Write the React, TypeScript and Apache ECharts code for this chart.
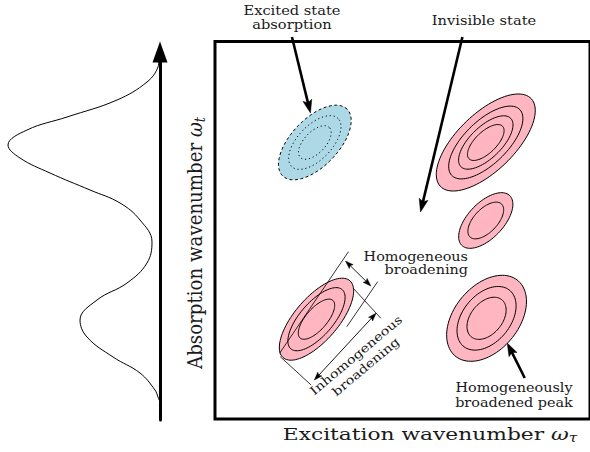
import React, { useEffect, useRef } from 'react';
import * as echarts from 'echarts';

// ---- Main 2D plane (excitation x, absorption y), ~1 unit per px ----
const peakKind = ['esa', 'peak', 'peak', 'peak', 'peak'];
const peakX = [102.5, 278, 278, 104.2, 278.8];
const peakY = [275.5, 275.5, 197.5, 98.8, 99.7];
const peakA = [47, 64, 35, 51.5, 49.6];
const peakB = [24, 29, 18, 22, 32.7];
const peakTilt = [45, 43, 45, 48, 48.5];
const peakContours = [
  [1, 0.72, 0.45],
  [1, 0.75, 0.55, 0.37],
  [1, 0.66],
  [1, 0.77, 0.49],
  [1, 0.74, 0.49],
];

// Guide lines around the lower-left peak: [x1, y1, x2, y2]
const guideLines = [
  [137, 166.3, 66.3, 64.7],
  [167, 136.3, 135.3, 91.3],
  [142, 129.7, 170.3, 99.7],
  [67, 61.3, 98.7, 33],
];

// Arrows: [x1, y1, x2, y2, heads (1 = end, 2 = both), thick (1) / thin (0)]
const arrowSegs = [
  [79, 381, 98, 305, 1, 1],
  [254, 381, 211, 206, 1, 1],
  [318, 40, 300, 75, 1, 1],
  [134, 157, 160, 132, 2, 0],
  [165.3, 104.7, 102, 38, 2, 0],
];

// ---- Linear absorption spectrum (left panel) ----
const specIntensity = [0, 1, 2, 13, 43, 93, 133, 152, 140, 110, 70, 40, 20, 8, 13, 33, 63, 80, 73, 47, 20, 5, 2, 0];
const specWavenumber = [362, 360, 353, 338, 320, 303, 290, 275, 262, 247, 230, 217, 200, 178, 157, 137, 120, 100, 83, 63, 47, 30, 23, 18];

const FONT = '"DejaVu Serif", serif';
const INK = '#1a1a1a';

function renderPeak(params: any, api: any) {
  const cx = api.value(0);
  const cy = api.value(1);
  const a = api.value(2);
  const b = api.value(3);
  const tilt = (api.value(4) * Math.PI) / 180;
  const s = api.value(5);
  const esa = api.value(6) === 1;
  const outer = s === 1;
  const pts: number[][] = [];
  const n = 96;
  for (let i = 0; i < n; i++) {
    const t = (i / n) * Math.PI * 2;
    const u = a * s * Math.cos(t);
    const v = b * s * Math.sin(t);
    const x = cx + u * Math.cos(tilt) - v * Math.sin(tilt);
    const y = cy + u * Math.sin(tilt) + v * Math.cos(tilt);
    pts.push(api.coord([x, y]));
  }
  return {
    type: 'polygon',
    shape: { points: pts },
    style: {
      fill: outer ? (esa ? '#ADD8E6' : '#FFB6C1') : 'none',
      stroke: '#000',
      lineWidth: 1,
      lineDash: esa ? (outer ? [3, 2.5] : [1.2, 2.8]) : null,
    },
  };
}

function renderGuide(params: any, api: any) {
  const p1 = api.coord([api.value(0), api.value(1)]);
  const p2 = api.coord([api.value(2), api.value(3)]);
  return {
    type: 'line',
    shape: { x1: p1[0], y1: p1[1], x2: p2[0], y2: p2[1] },
    style: { stroke: '#000', lineWidth: 0.8 },
  };
}

function renderArrow(params: any, api: any) {
  const p1 = api.coord([api.value(0), api.value(1)]);
  const p2 = api.coord([api.value(2), api.value(3)]);
  const both = api.value(4) === 2;
  const thick = api.value(5) === 1;
  const lw = thick ? 2.6 : 0.9;
  const hl = thick ? 13 : 8;
  const hw = thick ? 9 : 5.5;
  const dx = p2[0] - p1[0];
  const dy = p2[1] - p1[1];
  const len = Math.hypot(dx, dy);
  const ux = dx / len;
  const uy = dy / len;
  const nx = -uy;
  const ny = ux;
  const head = (tip: number[], dxu: number, dyu: number) => ({
    type: 'polygon',
    shape: {
      points: [
        tip,
        [tip[0] - dxu * hl + (nx * hw) / 2, tip[1] - dyu * hl + (ny * hw) / 2],
        [tip[0] - dxu * hl * 0.82, tip[1] - dyu * hl * 0.82],
        [tip[0] - dxu * hl - (nx * hw) / 2, tip[1] - dyu * hl - (ny * hw) / 2],
      ],
    },
    style: { fill: '#000', stroke: '#000', lineWidth: 0.5 },
  });
  const s = both ? [p1[0] + ux * hl * 0.7, p1[1] + uy * hl * 0.7] : p1;
  const e = [p2[0] - ux * hl * 0.7, p2[1] - uy * hl * 0.7];
  const children: any[] = [
    { type: 'line', shape: { x1: s[0], y1: s[1], x2: e[0], y2: e[1] }, style: { stroke: '#000', lineWidth: lw } },
    head(p2, ux, uy),
  ];
  if (both) children.push(head(p1, -ux, -uy));
  return { type: 'group', children };
}

export default function App() {
  const ref = useRef<HTMLDivElement>(null);

  useEffect(() => {
    if (!ref.current) return;
    const chart = echarts.init(ref.current, undefined, { renderer: 'svg' });

    const peakData: number[][] = [];
    peakX.forEach((x, i) => {
      peakContours[i].forEach((s) => {
        peakData.push([x, peakY[i], peakA[i], peakB[i], peakTilt[i], s, peakKind[i] === 'esa' ? 1 : 0]);
      });
    });
    const specData = specIntensity.map((v, i) => [v, specWavenumber[i]]);

    const small = { fontFamily: FONT, fontSize: 12, fill: INK };

    chart.setOption({
      animation: false,
      grid: [
        { left: 215, top: 41.5, width: 385, height: 377.5, show: true, borderColor: '#000', borderWidth: 3, backgroundColor: 'transparent' },
        { left: 0, top: 52, width: 160, height: 368, show: false },
      ],
      xAxis: [
        { gridIndex: 0, type: 'value', min: 0, max: 385, show: false },
        { gridIndex: 1, type: 'value', min: 0, max: 160, inverse: true, show: false },
      ],
      yAxis: [
        { gridIndex: 0, type: 'value', min: -1, max: 376.5, show: false },
        {
          gridIndex: 1,
          type: 'value',
          min: 0,
          max: 368,
          position: 'right',
          axisLine: {
            show: true,
            onZero: false,
            symbol: ['none', 'triangle'],
            symbolSize: [15, 21],
            lineStyle: { color: '#000', width: 3 },
          },
          axisTick: { show: false },
          axisLabel: { show: false },
          splitLine: { show: false },
        },
      ],
      series: [
        { type: 'custom', name: 'peaks', xAxisIndex: 0, yAxisIndex: 0, renderItem: renderPeak, data: peakData, z: 2 },
        { type: 'custom', name: 'guides', xAxisIndex: 0, yAxisIndex: 0, renderItem: renderGuide, data: guideLines, z: 3 },
        { type: 'custom', name: 'arrows', xAxisIndex: 0, yAxisIndex: 0, renderItem: renderArrow, data: arrowSegs, z: 4 },
        {
          type: 'line',
          name: 'spectrum',
          xAxisIndex: 1,
          yAxisIndex: 1,
          data: specData,
          smooth: 0.4,
          symbol: 'none',
          lineStyle: { color: '#000', width: 1 },
          z: 2,
        },
      ],
      graphic: [
        { type: 'text', x: 292, y: 18, scaleX: 1.22, style: { ...small, text: 'Excited state\nabsorption', lineHeight: 14.3, align: 'center', verticalAlign: 'middle' } },
        { type: 'text', x: 484, y: 20.8, scaleX: 1.22, style: { ...small, text: 'Invisible state', align: 'center', verticalAlign: 'middle' } },
        { type: 'text', x: 468, y: 263.2, scaleX: 1.2, style: { ...small, text: 'Homogeneous\nbroadening', lineHeight: 13.4, align: 'right', verticalAlign: 'middle' } },
        { type: 'text', x: 514, y: 395.3, scaleX: 1.2, style: { ...small, text: 'Homogeneously\nbroadened peak', lineHeight: 14.4, align: 'center', verticalAlign: 'middle' } },
        { type: 'text', x: 361, y: 361, rotation: (40 * Math.PI) / 180, scaleX: 1.2, style: { ...small, text: 'Inhomogeneous\nbroadening', lineHeight: 15, align: 'center', verticalAlign: 'middle' } },
        {
          type: 'text',
          x: 430,
          y: 434,
          scaleX: 1.28,
          style: {
            text: '{n|Excitation wavenumber }{w|ω}{s|τ}',
            align: 'center',
            verticalAlign: 'middle',
            fill: INK,
            rich: {
              n: { fontFamily: FONT, fontSize: 17, lineHeight: 20, fill: INK },
              w: { fontFamily: FONT, fontSize: 17, fontStyle: 'italic', lineHeight: 20, fill: INK },
              s: { fontFamily: FONT, fontSize: 12, fontStyle: 'italic', lineHeight: 12, verticalAlign: 'bottom', fill: INK },
            },
          },
        },
        {
          type: 'text',
          x: 195,
          y: 243,
          rotation: Math.PI / 2,
          scaleX: 1.07,
          scaleY: 1.25,
          style: {
            text: '{n|Absorption wavenumber }{w|ω}{s|t}',
            align: 'center',
            verticalAlign: 'middle',
            fill: INK,
            rich: {
              n: { fontFamily: FONT, fontSize: 17, lineHeight: 20, fill: INK },
              w: { fontFamily: FONT, fontSize: 17, fontStyle: 'italic', lineHeight: 20, fill: INK },
              s: { fontFamily: FONT, fontSize: 12, fontStyle: 'italic', lineHeight: 12, verticalAlign: 'bottom', fill: INK },
            },
          },
        },
      ],
    });

    return () => chart.dispose();
  }, []);

  return <div ref={ref} style={{ position: 'absolute', left: 0, top: 0, width: 590, height: 452 }} />;
}
